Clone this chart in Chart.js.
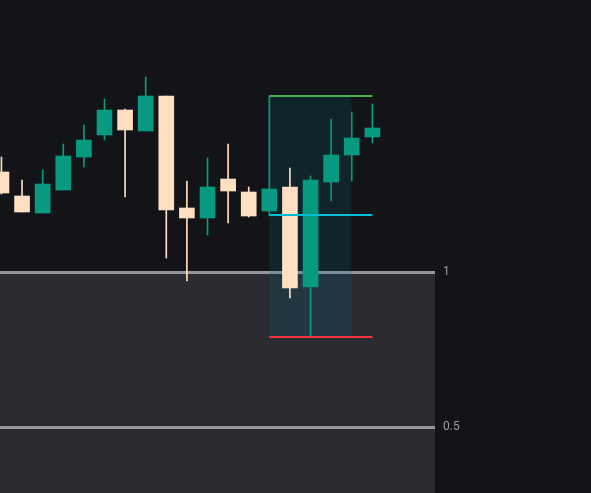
<!DOCTYPE html>
<html>
<head>
<meta charset="utf-8">
<script src="https://cdn.jsdelivr.net/npm/chart.js@4.4.1/dist/chart.umd.min.js"></script>
<style>
  html, body { margin: 0; padding: 0; background: #131417; }
  #wrap { width: 591px; height: 493px; }
</style>
</head>
<body>
<div id="wrap"><canvas id="chart"></canvas></div>
<script>
// Candles (one per bar, left to right)
const opens  = [112.8, 110.4, 108.7, 111.0, 114.3, 116.5, 119.0, 116.9, 120.4, 109.2, 108.2, 112.1, 110.8, 108.9, 111.3, 101.3, 111.8, 114.5, 116.3];
const highs  = [114.3, 112.0, 113.0, 115.6, 117.5, 120.1, 119.1, 122.3, 120.4, 111.9, 114.2, 115.6, 111.3, 120.4, 113.2, 112.4, 118.1, 118.8, 119.6];
const lows   = [110.6, 108.8, 108.7, 111.0, 113.3, 116.0, 110.3, 116.9, 104.2, 101.9, 106.5, 107.7, 108.3, 108.4, 100.2,  96.3, 109.9, 111.9, 115.7];
const closes = [110.7, 108.8, 111.6, 114.4, 116.0, 119.0, 117.0, 120.4, 109.0, 108.2, 111.3, 110.9, 108.4, 111.1, 101.2, 112.0, 114.5, 116.2, 117.2];

// Long position tool
const targetPrice = 120.4;
const entryPrice = 108.5;
const stopPrice = 96.3;
const positionStart = 13;
const positionEnd = 17;
const positionLineEnd = 18;

// Lower indicator pane levels
const levelTicks = [1, 0.5];

const UP = "#089981";
const DOWN = "#ffdfc2";

function candleColor(ctx) {
  const i = ctx.dataIndex;
  return closes[i] >= opens[i] ? UP : DOWN;
}

function hLine(x0, x1, y) {
  return [{ x: x0, y: y }, { x: x1, y: y }];
}

function renderChart() {
  const ctx = document.getElementById("chart").getContext("2d");
  const xMin = -0.07, xMax = 21.04;

  new Chart(ctx, {
    type: "bar",
    data: {
      datasets: [
        // position tool lines
        { type: "line", data: hLine(positionStart, positionLineEnd, targetPrice), borderColor: "#4caf50", borderWidth: 2, pointRadius: 0, yAxisID: "y", order: 0 },
        { type: "line", data: hLine(positionStart, positionLineEnd, entryPrice), borderColor: "#00bcd4", borderWidth: 2, pointRadius: 0, yAxisID: "y", order: 0 },
        { type: "line", data: hLine(positionStart, positionLineEnd, stopPrice), borderColor: "#f23645", borderWidth: 2, pointRadius: 0, yAxisID: "y", order: 0 },
        // candle bodies
        {
          data: opens.map((o, i) => ({ x: i, y: [o, closes[i]] })),
          backgroundColor: candleColor, barThickness: 15, grouped: false,
          borderWidth: 0, yAxisID: "y", order: 1
        },
        // candle wicks
        {
          data: lows.map((l, i) => ({ x: i, y: [l, highs[i]] })),
          backgroundColor: candleColor, barThickness: 1, grouped: false,
          borderWidth: 0, yAxisID: "y", order: 2
        },
        // position zone
        {
          type: "line", data: hLine(positionStart, positionEnd, targetPrice),
          borderWidth: 0, pointRadius: 0, fill: { value: stopPrice },
          backgroundColor: "rgba(0, 105, 125, 0.2)", yAxisID: "y", order: 3
        },
        // indicator pane
        { type: "line", data: hLine(xMin, xMax, 0.5), borderColor: "#97969c", borderWidth: 3, pointRadius: 0, yAxisID: "ind", order: 4 },
        {
          type: "line", data: hLine(xMin, xMax, 1), borderColor: "#97969c", borderWidth: 3,
          pointRadius: 0, fill: "start", backgroundColor: "#2c2b31", yAxisID: "ind", order: 5
        }
      ]
    },
    options: {
      responsive: true,
      maintainAspectRatio: false,
      animation: false,
      layout: { padding: 0 },
      plugins: { legend: { display: false }, tooltip: { enabled: false } },
      scales: {
        x: { type: "linear", min: xMin, max: xMax, offset: false, grid: { offset: false }, display: false },
        y: { type: "linear", min: 80.7, max: 130, display: false },
        ind: {
          type: "linear",
          position: "right",
          min: 0.2887,
          max: 1.879,
          grid: { display: false, drawTicks: false },
          border: { display: false },
          ticks: {
            padding: 8,
            color: "#9a9ca3",
            font: { family: "Roboto, 'DejaVu Sans', sans-serif", size: 12 },
            callback: v => String(v)
          },
          afterBuildTicks: scale => { scale.ticks = levelTicks.map(v => ({ value: v })); },
          afterFit: scale => {
            scale.width = 156;
            scale.paddingTop = 0;
            scale.paddingBottom = 0;
          }
        }
      }
    }
  });
}

renderChart();
</script>
</body>
</html>
